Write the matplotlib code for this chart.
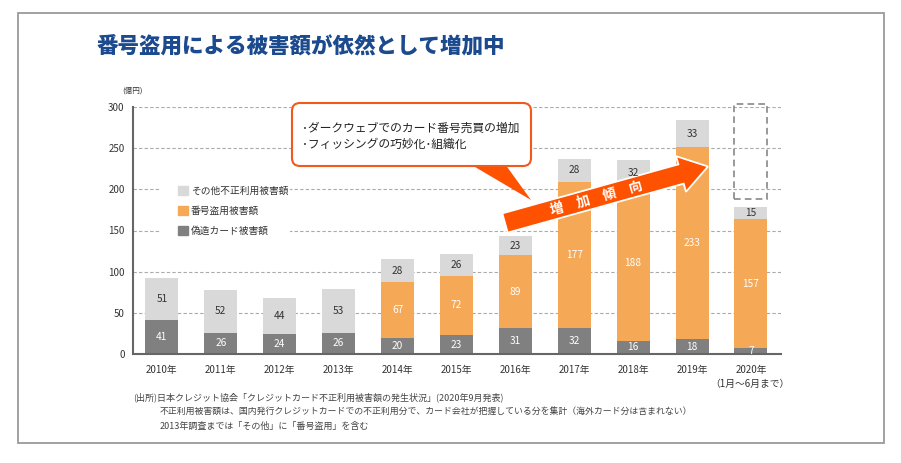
import matplotlib
matplotlib.use("Agg")
import matplotlib.pyplot as plt
from matplotlib.patches import Rectangle, FancyArrow, FancyBboxPatch, Polygon, Patch
import numpy as np

plt.rcParams['font.family'] = ['Noto Sans CJK JP', 'DejaVu Sans']

years = ["2010年", "2011年", "2012年", "2013年", "2014年", "2015年",
         "2016年", "2017年", "2018年", "2019年", "2020年"]
forgery = [41, 26, 24, 26, 20, 23, 31, 32, 16, 18, 7]
number_theft = [0, 0, 0, 0, 67, 72, 89, 177, 188, 233, 157]
other = [51, 52, 44, 53, 28, 26, 23, 28, 32, 33, 15]
series_labels = ["偽造カード被害額", "番号盗用被害額", "その他不正利用被害額"]
yticks = [0, 50, 100, 150, 200, 250, 300]

title = "番号盗用による被害額が依然として増加中"
callout_lines = ["･ダークウェブでのカード番号売買の増加", "･フィッシングの巧妙化･組織化"]
arrow_text = "増　加　傾　向"
unit_label = "(億円)"
period_label = "（1月～6月まで）"
notes = ["(出所)日本クレジット協会「クレジットカード不正利用被害額の発生状況」(2020年9月発表)",
         "不正利用被害額は、国内発行クレジットカードでの不正利用分で、カード会社が把握している分を集計（海外カード分は含まれない）",
         "2013年調査までは「その他」に「番号盗用」を含む"]

C_DARK = "#808080"
C_ORANGE = "#f5a855"
C_LIGHT = "#d9d9d9"
C_ARROW = "#ff5200"

W, H = 901, 463
fig = plt.figure(figsize=(W / 100, H / 100), dpi=100)
T = fig.dpi_scale_trans

def px(x, y):
    return (x / 100, (H - y) / 100)

# outer border
fig.add_artist(Rectangle(px(18, 443), (884 - 18) / 100, (443 - 13) / 100, transform=T,
                         fill=False, edgecolor="#9a9a9a", linewidth=1.3))

ax = fig.add_axes([133 / W, 1 - 354 / H, (781 - 133) / W, (354 - 107) / H])
x = np.arange(len(years))
bw = 0.56
f = np.array(forgery); n = np.array(number_theft); o = np.array(other)
ax.bar(x, f, bw, color=C_DARK, zorder=2)
ax.bar(x, n, bw, bottom=f, color=C_ORANGE, zorder=2)
ax.bar(x, o, bw, bottom=f + n, color=C_LIGHT, zorder=2)

lab_kw = dict(ha="center", va="center", fontsize=7.3, zorder=3)
for i in range(len(x)):
    ax.text(x[i], f[i] / 2, str(f[i]), color="white", **lab_kw)
    if n[i] > 0:
        ax.text(x[i], f[i] + n[i] / 2, str(n[i]), color="white", **lab_kw)
    ax.text(x[i], f[i] + n[i] + o[i] / 2, str(o[i]), color="#333333", **lab_kw)

# forecast dashed box above 2020
ax.add_patch(Rectangle((x[-1] - bw / 2, 188), bw, 116, fill=False, edgecolor="#888888",
                       linestyle=(0, (4, 2.5)), linewidth=1.2, clip_on=False, zorder=3))

ax.set_xlim(-0.49, len(x) - 0.49)
ax.set_ylim(0, 300)
ax.set_yticks(yticks)
ax.set_yticklabels([str(v) for v in yticks], fontsize=7, color="#333333")
ax.set_xticks(x)
ax.set_xticklabels(years, fontsize=7, color="#333333")
ax.tick_params(axis="both", length=0)
ax.tick_params(axis="y", pad=6)
ax.tick_params(axis="x", pad=8)
ax.grid(axis="y", color="#aaaaaa", linestyle=(0, (3, 2)), linewidth=0.8, zorder=0)
ax.set_axisbelow(True)
for s in ["top", "right"]:
    ax.spines[s].set_visible(False)
for s in ["left", "bottom"]:
    ax.spines[s].set_color("#666666")
    ax.spines[s].set_linewidth(1.5)

fig.text(*px(122, 91), unit_label, transform=T, fontsize=5.5, color="#333333", va="center")
fig.text(*px(750, 384), period_label, transform=T, fontsize=7, color="#333333",
         ha="center", va="center")

# legend (white backing box interrupts the gridlines)
ax.add_patch(Rectangle(px(160, 243), 1.30, 0.62, transform=T, facecolor="white",
                       edgecolor="none", zorder=1, clip_on=False))
handles = [Patch(color=C_LIGHT), Patch(color=C_ORANGE), Patch(color=C_DARK)]
leg = ax.legend(handles, [series_labels[2], series_labels[1], series_labels[0]],
                loc="upper left", bbox_to_anchor=px(178, 186), bbox_transform=T,
                fontsize=7, frameon=False,
                handlelength=1.05, handleheight=1.1, handletextpad=0.3, labelspacing=1.02,
                borderpad=0, borderaxespad=0)
leg.set_zorder(4)
for t in leg.get_texts():
    t.set_color("#333333")

# trend arrow (under the bar value labels)
(tx, ty) = px(505, 223)
(hx, hy) = px(708, 166.5)
arr = FancyArrow(tx, ty, hx - tx, hy - ty, width=0.20, head_width=0.37, head_length=0.28,
                 length_includes_head=True, transform=T, facecolor=C_ARROW,
                 edgecolor="white", linewidth=1.3, zorder=2.5, clip_on=False)
ax.add_patch(arr)
ang = np.degrees(np.arctan2(hy - ty, hx - tx))
ax.text(*px(597, 198), arrow_text, transform=T, rotation=ang, rotation_mode="anchor",
        ha="center", va="center", color="white", fontsize=9.8, fontweight="bold",
        zorder=2.6, clip_on=False)

# callout
fig.add_artist(Polygon([px(470, 164), px(505, 164), px(531, 200)], closed=True, transform=T,
                       facecolor=C_ARROW, edgecolor="none", zorder=5))
box = FancyBboxPatch(px(292, 166), (531 - 292) / 100, (166 - 103) / 100,
                     boxstyle="round,pad=0,rounding_size=0.08", transform=T,
                     facecolor="white", edgecolor="#f25a1c", linewidth=1.5, zorder=6)
fig.add_artist(box)
fig.text(*px(302, 128), callout_lines[0], transform=T, fontsize=8.5, color="#222222",
         va="center", ha="left", zorder=7)
fig.text(*px(302, 144), callout_lines[1], transform=T, fontsize=8.5, color="#222222",
         va="center", ha="left", zorder=7)

# title
fig.text(*px(97, 47), title, transform=T, fontsize=15.5, fontweight=900, color="#1c4a8e",
         va="center", ha="left")

# notes
fig.text(*px(133, 397), notes[0], transform=T, fontsize=6.5, color="#444444", va="center")
fig.text(*px(160, 411), notes[1], transform=T, fontsize=6.4, color="#444444", va="center")
fig.text(*px(160, 426), notes[2], transform=T, fontsize=6.5, color="#444444", va="center")

fig.savefig("out.png", dpi=100)
